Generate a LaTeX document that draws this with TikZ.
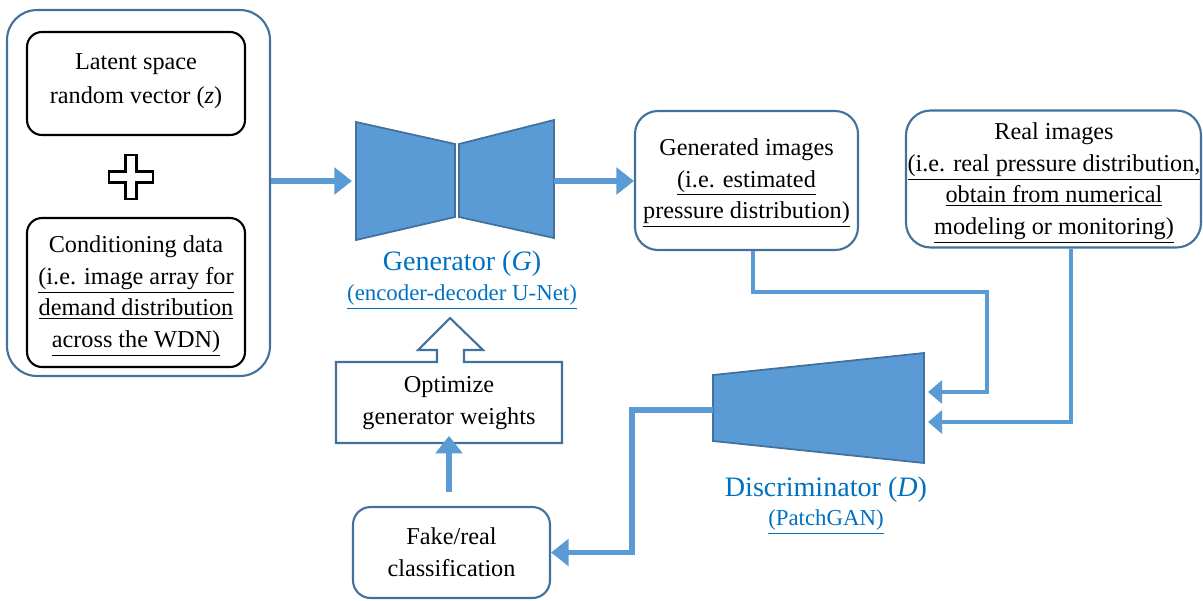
\documentclass[tikz,border=0pt]{standalone}
\usepackage{fontspec}
\setmainfont{Liberation Serif}
\usetikzlibrary{arrows.meta}
\definecolor{fillblue}{HTML}{5B9BD5}
\definecolor{edgeblue}{HTML}{41719C}
\definecolor{textblue}{HTML}{0070C0}

\begin{document}
\begin{tikzpicture}[x=0.02cm, y=-0.02cm,
  every node/.style={font=\fontsize{13.8}{18}\selectfont, align=center, inner sep=0pt},
  box/.style={draw=edgeblue, line width=1.2pt, rounded corners=13pt, fill=white},
  blackbox/.style={draw=black, line width=1.2pt, rounded corners=8.5pt},
  flow/.style={draw=fillblue, line width=3.6pt, -{Triangle[length=10pt,width=15pt]}},
  feed/.style={draw=fillblue, line width=2.8pt, -{Triangle[length=8pt,width=13pt]}},
  block/.style={fill=fillblue, draw=edgeblue, line width=1pt},
  title/.style={text=textblue, font=\fontsize{16}{19}\selectfont},
  subtitle/.style={text=textblue, font=\fontsize{13}{16}\selectfont}]
  \clip (0,0) rectangle (1203,600);

  \node[box, rounded corners=17pt, minimum width=5.26cm, minimum height=7.32cm] (inputs) at (138.5,193) {};
  \node[blackbox, minimum width=4.36cm, minimum height=2.06cm] (latent) at (136,83.5) {};
  \node[font=\fontsize{13.8}{19.5}\selectfont] (latenttext) at (136,81) {Latent space\\random vector (\textit{z})};
  \node[blackbox, minimum width=4.36cm, minimum height=2.98cm] (cond) at (136,292.5) {};
  \node (condtext) at (136,296)
    {Conditioning data\\\underline{(i.e. image array for}\\\underline{demand distribution}\\\underline{across the WDN)}};
  \draw[line width=1.2pt, fill=white, shift={(131,177)}]
    (-5.5,-22) -- (5.5,-22) -- (5.5,-5.5) -- (22,-5.5) -- (22,5.5) -- (5.5,5.5) -- (5.5,22)
    -- (-5.5,22) -- (-5.5,5.5) -- (-22,5.5) -- (-22,-5.5) -- (-5.5,-5.5) -- cycle;

  \draw[block] (356,122) -- (455,144) -- (455,217) -- (356,240) -- cycle;
  \draw[block] (459,144) -- (554,120) -- (554,238) -- (459,217) -- cycle;
  \coordinate (GL) at (356,181);
  \coordinate (GR) at (554,181);
  \node[title] (gentitle) at (462,264) {Generator (\textit{G})};
  \node[subtitle] (gensub) at (462,297) {\underline{(encoder-decoder U-Net)}};

  \node[box, minimum width=4.46cm, minimum height=2.78cm] (genimg) at (746.5,180.5) {};
  \node (genimgtext) at (746.5,183)
    {Generated images\\\underline{(i.e. estimated}\\\underline{pressure distribution)}};
  \node[box, rounded corners=14pt, minimum width=5.9cm, minimum height=2.74cm] (real) at (1053.5,179) {};
  \node (realtext) at (1054,183)
    {Real images\\\underline{(i.e. real pressure distribution,}\\\underline{obtain from numerical}\\\underline{modeling or monitoring)}};

  \draw[block] (713,375) -- (924,353) -- (924,463) -- (713,441) -- cycle;
  \coordinate (DA) at (928,392);
  \coordinate (DB) at (928,422);
  \coordinate (DO) at (713,410);
  \node[title] (distitle) at (826,490) {Discriminator (\textit{D})};
  \node[subtitle] (dissub) at (826,522) {\underline{(PatchGAN)}};

  \draw[draw=edgeblue, line width=1.2pt, fill=white] (336,362) -- (437,362) -- (437,350) -- (418,350)
    -- (450,318) -- (483,350) -- (464,350) -- (464,362) -- (562,362) -- (562,443) -- (336,443) -- cycle;
  \node[minimum width=4.52cm, minimum height=1.62cm] (opt) at (449,403) {Optimize\\generator weights};
  \node[box, rounded corners=10pt, minimum width=3.94cm, minimum height=1.82cm] (fake) at (451.5,552.5)
    {Fake/real\\classification};

  \draw[flow, shorten >=2.3pt] (inputs.east |- GL) -- (GL);
  \draw[flow] (GR) -- (GR -| genimg.west);
  \draw[feed] ([xshift=0.13cm]genimg.south) |- (987,292) |- (DA);
  \draw[feed] ([xshift=0.35cm]real.south) |- (DB);
  \coordinate (K) at (632,480);
  \draw[flow, line width=3.3pt] (DO) -| (K) |- (fake.east);
  \draw[flow, shorten <=0.28cm, shorten >=-0.16cm] (fake.north -| opt.south) -- (opt.south);
\end{tikzpicture}
\end{document}
